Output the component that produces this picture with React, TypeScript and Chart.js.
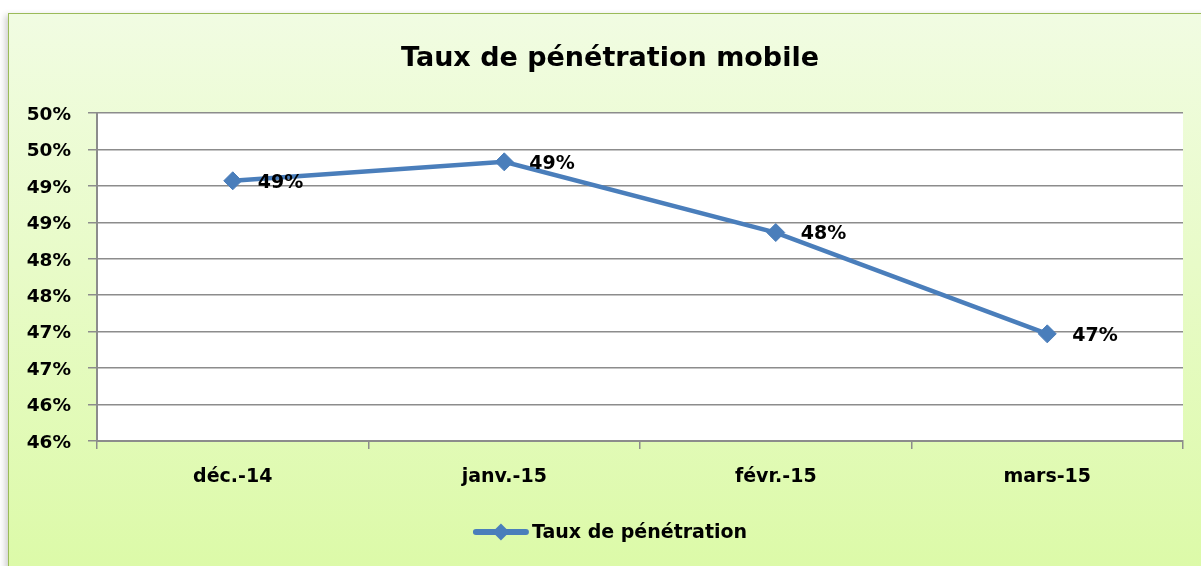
import React, { useEffect, useRef } from "react";
import { Chart, registerables } from "chart.js";

Chart.register(...registerables);

const categories = ["déc.-14", "janv.-15", "févr.-15", "mars-15"];
const seriesName = "Taux de pénétration";
const values = [49.07, 49.33, 48.36, 46.97];
const chartTitle = "Taux de pénétration mobile";
const yMin = 45.5;
const yMax = 50;
const yStep = 0.5;

const FONT = "'DejaVu Sans', sans-serif";
const LINE_COLOR = "#4a7ebb";

const plotBg = {
  id: "plotBg",
  beforeDraw(chart: any) {
    const { ctx, chartArea } = chart;
    ctx.save();
    ctx.fillStyle = "#ffffff";
    ctx.fillRect(chartArea.left, chartArea.top, chartArea.right - chartArea.left, chartArea.bottom - chartArea.top);
    ctx.restore();
  },
};

const titlePlugin = {
  id: "titlePlugin",
  afterDraw(chart: any) {
    const { ctx } = chart;
    ctx.save();
    ctx.font = `bold 27px ${FONT}`;
    ctx.fillStyle = "#000000";
    ctx.textAlign = "center";
    ctx.textBaseline = "alphabetic";
    ctx.fillText(chartTitle, 601, 52);
    ctx.restore();
  },
};

const dataLabels = {
  id: "dataLabels",
  afterDatasetsDraw(chart: any) {
    const { ctx } = chart;
    const meta = chart.getDatasetMeta(0);
    ctx.save();
    ctx.font = `bold 19px ${FONT}`;
    ctx.fillStyle = "#000000";
    ctx.textAlign = "left";
    ctx.textBaseline = "middle";
    meta.data.forEach((pt: any, i: number) => {
      const v = chart.data.datasets[0].data[i] as number;
      ctx.fillText(Math.round(v) + "%", pt.x + 25, pt.y + 2);
    });
    ctx.restore();
  },
};

const customLegend = {
  id: "customLegend",
  afterDraw(chart: any) {
    const { ctx } = chart;
    ctx.save();
    ctx.font = `bold 19px ${FONT}`;
    const text = chart.data.datasets[0].label;
    const tw = ctx.measureText(text).width;
    const lineW = 56;
    const gap = 3;
    const total = lineW + gap + tw;
    const startX = chart.width / 2 + 2 - total / 2;
    const y = chart.height - 38;
    ctx.strokeStyle = LINE_COLOR;
    ctx.lineWidth = 6;
    ctx.lineCap = "round";
    ctx.beginPath();
    ctx.moveTo(startX + 3, y);
    ctx.lineTo(startX + lineW - 3, y);
    ctx.stroke();
    const cx = startX + lineW / 2;
    const r = 8.5;
    ctx.fillStyle = LINE_COLOR;
    ctx.beginPath();
    ctx.moveTo(cx - r, y);
    ctx.lineTo(cx, y - r);
    ctx.lineTo(cx + r, y);
    ctx.lineTo(cx, y + r);
    ctx.closePath();
    ctx.fill();
    ctx.fillStyle = "#000000";
    ctx.textAlign = "left";
    ctx.textBaseline = "middle";
    ctx.fillText(text, startX + lineW + gap, y + 1);
    ctx.restore();
  },
};

export default function App() {
  const ref = useRef<HTMLCanvasElement>(null);

  useEffect(() => {
    if (!ref.current) return;
    const chart = new Chart(ref.current, {
      type: "line",
      data: {
        labels: categories,
        datasets: [
          {
            label: seriesName,
            data: values,
            borderColor: LINE_COLOR,
            backgroundColor: LINE_COLOR,
            borderWidth: 4.5,
            pointStyle: "rectRot",
            pointRadius: 9,
            pointBorderWidth: 1,
            pointBackgroundColor: LINE_COLOR,
            pointBorderColor: LINE_COLOR,
            tension: 0,
            fill: false,
          },
        ],
      },
      options: {
        animation: false,
        responsive: false,
        maintainAspectRatio: false,
        layout: { padding: { top: 99, left: 0, right: 24, bottom: 69 } },
        plugins: {
          legend: { display: false },
          tooltip: { enabled: false },
          title: { display: false },
        },
        scales: {
          x: {
            offset: true,
            grid: {
              offset: true,
              drawOnChartArea: false,
              drawTicks: true,
              tickLength: 8,
              color: "#8c8c8c",
              lineWidth: 1.5,
            },
            border: { display: true, color: "#8c8c8c", width: 2 },
            ticks: {
              color: "#000000",
              font: { family: FONT, size: 19, weight: "bold" },
              padding: 17,
              maxRotation: 0,
            },
            afterFit(scale: any) {
              scale.height = 60;
            },
          },
          y: {
            min: yMin,
            max: yMax,
            grid: {
              color: "#8c8c8c",
              lineWidth: 1.5,
              tickLength: 9,
              drawTicks: true,
            },
            border: { display: true, color: "#8c8c8c", width: 2 },
            ticks: {
              stepSize: yStep,
              color: "#000000",
              font: { family: FONT, size: 18.5, weight: "bold" },
              padding: 17,
              labelOffset: 2,
              callback: (v: any) => Math.round(Number(v)) + "%",
            },
            afterFit(scale: any) {
              scale.width = 88;
            },
          },
        },
      },
      plugins: [plotBg, dataLabels, customLegend, titlePlugin],
    });
    return () => chart.destroy();
  }, []);

  return (
    <div
      style={{
        position: "fixed",
        left: 8,
        top: 13,
        width: 1198,
        height: 556,
        border: "1px solid #9bbb59",
        background: "linear-gradient(to bottom, #f1fce2 0%, #e8fbc8 45%, #dcfaa8 100%)",
        boxShadow: "-3px 2px 6px rgba(0,0,0,0.18)",
      }}
    >
      <canvas ref={ref} width={1198} height={556} style={{ display: "block" }} />
    </div>
  );
}
